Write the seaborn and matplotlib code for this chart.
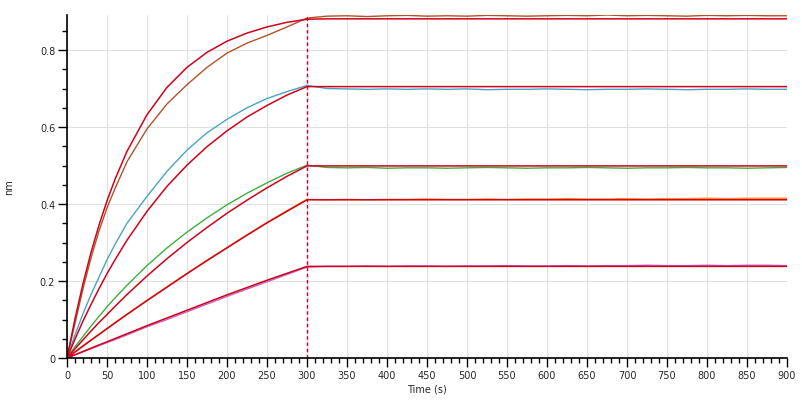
import matplotlib
matplotlib.use('Agg')
import matplotlib.pyplot as plt
import matplotlib.ticker as mticker
import seaborn as sns
import pandas as pd

# sample times (s)
t_assoc = [0, 10, 20, 30, 40, 50, 60, 75, 100, 125, 150, 175, 200, 225, 250, 275, 300]
t_dissoc = [325, 350, 375, 400, 425, 450, 475, 500, 525, 550, 575, 600,
            625, 650, 675, 700, 725, 750, 775, 800, 825, 850, 875, 900]

trace_names = ['c1', 'c2', 'c3', 'c4', 'c5']
trace_colors = ['#b4502a', '#4aa3c4', '#3fae3f', '#ff8a1e', '#c864c8']
fit_color = '#d0021b'

# measured responses (nm)
data_assoc = {
    'c1': [0, 0.09, 0.18, 0.26, 0.33, 0.39, 0.44, 0.51, 0.595, 0.66, 0.71, 0.755, 0.792, 0.818, 0.838, 0.86, 0.883],
    'c2': [0, 0.06, 0.115, 0.165, 0.21, 0.255, 0.295, 0.35, 0.42, 0.485, 0.54, 0.585, 0.62, 0.65, 0.674, 0.692, 0.708],
    'c3': [0, 0.029, 0.056, 0.083, 0.108, 0.133, 0.156, 0.189, 0.240, 0.286, 0.327, 0.364, 0.398, 0.428, 0.455, 0.480, 0.501],
    'c4': [0, 0.016, 0.032, 0.047, 0.062, 0.077, 0.092, 0.114, 0.150, 0.185, 0.220, 0.254, 0.287, 0.320, 0.352, 0.383, 0.412],
    'c5': [0, 0.008, 0.016, 0.024, 0.032, 0.040, 0.048, 0.060, 0.081, 0.100, 0.120, 0.140, 0.160, 0.179, 0.198, 0.217, 0.236],
}
data_dissoc = {
    'c1': [0.888, 0.889, 0.887, 0.889, 0.890, 0.888, 0.889, 0.888, 0.890, 0.889, 0.888, 0.889,
           0.890, 0.889, 0.891, 0.889, 0.890, 0.889, 0.888, 0.890, 0.889, 0.890, 0.889, 0.889],
    'c2': [0.700, 0.699, 0.698, 0.699, 0.698, 0.699, 0.698, 0.699, 0.697, 0.698, 0.698, 0.699,
           0.698, 0.697, 0.698, 0.698, 0.699, 0.698, 0.697, 0.698, 0.698, 0.699, 0.698, 0.698],
    'c3': [0.495, 0.494, 0.495, 0.493, 0.494, 0.494, 0.493, 0.494, 0.495, 0.494, 0.493, 0.494,
           0.494, 0.495, 0.494, 0.493, 0.494, 0.494, 0.495, 0.494, 0.494, 0.493, 0.494, 0.495],
    'c4': [0.411, 0.412, 0.411, 0.412, 0.412, 0.413, 0.412, 0.412, 0.413, 0.412, 0.413, 0.413,
           0.414, 0.413, 0.413, 0.414, 0.413, 0.414, 0.414, 0.415, 0.414, 0.415, 0.415, 0.415],
    'c5': [0.238, 0.238, 0.239, 0.238, 0.239, 0.239, 0.238, 0.239, 0.239, 0.240, 0.239, 0.239,
           0.240, 0.239, 0.240, 0.240, 0.241, 0.240, 0.240, 0.241, 0.240, 0.241, 0.241, 0.240],
}

# fitted curves (nm)
fit_assoc = {
    'c1': [0, 0.102, 0.193, 0.274, 0.345, 0.408, 0.464, 0.537, 0.632, 0.703, 0.755, 0.794, 0.823, 0.844, 0.860, 0.872, 0.880],
    'c2': [0, 0.049, 0.096, 0.139, 0.180, 0.219, 0.255, 0.306, 0.381, 0.446, 0.501, 0.549, 0.590, 0.626, 0.656, 0.683, 0.705],
    'c3': [0, 0.024, 0.047, 0.070, 0.092, 0.113, 0.134, 0.165, 0.213, 0.258, 0.300, 0.339, 0.376, 0.410, 0.442, 0.472, 0.499],
    'c4': [0, 0.0155, 0.031, 0.046, 0.061, 0.076, 0.091, 0.113, 0.149, 0.184, 0.219, 0.253, 0.286, 0.319, 0.351, 0.381, 0.411],
    'c5': [0, 0.0085, 0.017, 0.0255, 0.034, 0.042, 0.0505, 0.063, 0.084, 0.104, 0.124, 0.144, 0.164, 0.183, 0.202, 0.220, 0.238],
}
fit_plateau = {'c1': 0.881, 'c2': 0.705, 'c3': 0.499, 'c4': 0.411, 'c5': 0.238}

rows_data = []
rows_fit = []
for name in trace_names:
    for t, v in zip(t_assoc + t_dissoc, data_assoc[name] + data_dissoc[name]):
        rows_data.append({'time': t, 'nm': v, 'trace': name})
    for t, v in zip(t_assoc + t_dissoc, fit_assoc[name] + [fit_plateau[name]] * len(t_dissoc)):
        rows_fit.append({'time': t, 'nm': v, 'trace': name})
df_data = pd.DataFrame(rows_data)
df_fit = pd.DataFrame(rows_fit)

sns.set_style('white')
plt.rcParams['font.family'] = ['DejaVu Sans']

fig = plt.figure(figsize=(8.02, 4.02), dpi=100)
ax = fig.add_axes([67 / 802, 1 - 359 / 402, 720 / 802, 343 / 402])

sns.lineplot(data=df_data, x='time', y='nm', hue='trace', palette=trace_colors,
             estimator=None, sort=False, legend=False, linewidth=1.0, ax=ax)
sns.lineplot(data=df_fit, x='time', y='nm', units='trace', color=fit_color,
             estimator=None, sort=False, legend=False, linewidth=1.1, ax=ax)

ax.axvline(300, color='#d0021b', linestyle=(0, (2.5, 2)), linewidth=1.0)

ax.set_xlim(0, 900)
ax.set_ylim(0, 0.891)
ax.xaxis.set_major_locator(mticker.MultipleLocator(50))
ax.xaxis.set_minor_locator(mticker.MultipleLocator(10))
ax.yaxis.set_major_locator(mticker.MultipleLocator(0.2))
ax.yaxis.set_minor_locator(mticker.MultipleLocator(0.05))
ax.yaxis.set_major_formatter(mticker.FuncFormatter(lambda v, _: f'{v:g}'))
ax.grid(True, which='major', color='#e0e0e0', linewidth=0.8)
ax.set_axisbelow(True)

for side in ['top', 'right']:
    ax.spines[side].set_visible(False)
for side in ['left', 'bottom']:
    ax.spines[side].set_color('black')
    ax.spines[side].set_linewidth(1.2)

ax.tick_params(which='major', direction='out', length=6.5, width=1.0, color='black',
               labelsize=7, pad=2, left=True, bottom=True)
ax.tick_params(which='minor', direction='out', length=3.6, width=1.0, color='black',
               left=True, bottom=True)

ax.set_xlabel('Time (s)', fontsize=7, labelpad=3)
ax.set_ylabel('nm', fontsize=7)
ax.yaxis.set_label_coords(-0.073, 0.5)

fig.savefig('out.png', dpi=100)
